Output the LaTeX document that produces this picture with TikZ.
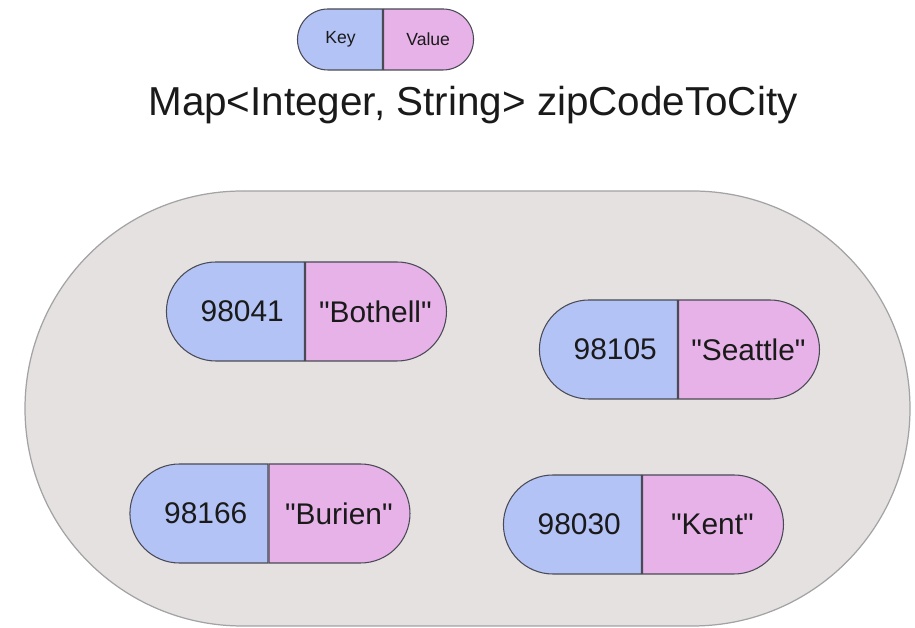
\documentclass[tikz,border=0pt]{standalone}
\usepackage{fontspec}
\setmainfont{Liberation Sans}[Ligatures=TeXOff]
\usetikzlibrary{shapes.misc,positioning}
\definecolor{MapInk}{HTML}{1A1A1A}
\definecolor{MapEdge}{HTML}{4A4A55}
\definecolor{MapKey}{HTML}{B4C3F5}
\definecolor{MapVal}{HTML}{E6B2E8}
\definecolor{MapBody}{HTML}{E4E1E0}
\definecolor{MapRim}{HTML}{A3A3A3}
\tikzset{
  every node/.style={text=MapInk},
  half/.style={rounded rectangle, draw=MapEdge, line width=0.6pt, inner xsep=0pt, inner ysep=0pt},
  keyhalf/.style={half, fill=MapKey, rounded rectangle right arc=none, minimum width=2.76cm, minimum height=1.98cm, font=\fontsize{17}{20}\selectfont},
  valhalf/.style={half, fill=MapVal, rounded rectangle left arc=none, minimum width=2.82cm, minimum height=1.98cm, font=\fontsize{17}{20}\selectfont},
  legkey/.style={keyhalf, minimum width=1.7cm, minimum height=1.22cm, font=\fontsize{10}{12}\selectfont},
  legval/.style={valhalf, minimum width=1.8cm, minimum height=1.22cm, font=\fontsize{10}{12}\selectfont},
  mapbody/.style={fill=MapBody, draw=MapRim, line width=0.7pt},
}

\begin{document}
\begin{tikzpicture}[x=1cm,y=1cm]
  \useasboundingbox (0,0) rectangle (18.3,12.56);
  % the map itself
  \draw[mapbody] (4.85,8.74) -- (13.85,8.74) arc[start angle=90, end angle=-90, radius=4.35]
    -- (4.85,0.04) arc[start angle=270, end angle=90, radius=4.35] -- cycle;
  % legend and title
  \node[legkey] (legkey) at (6.81,11.77) {Key};
  \node[legval, right=0pt of legkey] (legval) {Value};
  \node[font=\fontsize{23}{28}\selectfont] (title) at (9.46,10.46) {Map<Integer, String> zipCodeToCity};
  % entries
  \foreach \n/\x/\y/\k/\v in {1/4.72/6.33/98041/"Bothell", 2/12.18/5.57/98105/"Seattle",
                              3/3.99/2.29/98166/"Burien", 4/11.46/2.07/98030/"Kent"}{
    \node[keyhalf] (key\n) at (\x,\y) {\hspace*{0.25cm}\k};
    \node[valhalf, right=0pt of key\n] (val\n) {\v};
  }
\end{tikzpicture}
\end{document}
